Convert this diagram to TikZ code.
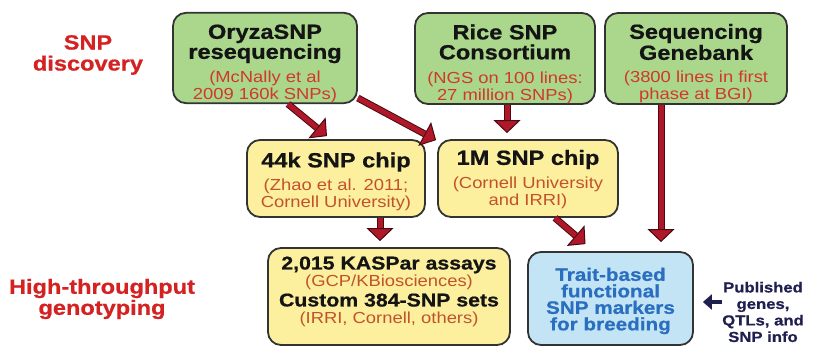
\documentclass[tikz,border=0pt]{standalone}
\usepackage{fontspec}
\setmainfont[FakeStretch=1.15,BoldFeatures={FakeBold=0.7}]{Liberation Sans}
\usetikzlibrary{arrows.meta}
\definecolor{gfill}{HTML}{AAD78C}
\definecolor{yfill}{HTML}{FCEF9E}
\definecolor{bfill}{HTML}{C3E4F5}
\definecolor{bordercol}{HTML}{333333}
\definecolor{titlecol}{HTML}{141414}
\definecolor{gred}{HTML}{D2382A}
\definecolor{yred}{HTML}{C2522C}
\definecolor{labred}{HTML}{D42222}
\definecolor{bluetxt}{HTML}{2A6EC0}
\definecolor{navytxt}{HTML}{1F1F50}
\definecolor{arrred}{HTML}{B0182A}
\definecolor{arrdark}{HTML}{4A0A10}
\newcommand\nolsk{\lineskiplimit=-30pt\relax}
\newcommand\tf{\fontsize{20.5}{20}\selectfont\bfseries\color{titlecol}}
\newcommand\tk{\fontsize{18.5}{20}\selectfont\bfseries\color{titlecol}}
\newcommand\rg{\fontsize{16}{17}\selectfont\color{gred}}
\newcommand\ry{\fontsize{16}{17}\selectfont\color{yred}}
\newcommand\redarr[2]{%
  \draw[arrdark, line width=7pt, -{Triangle[width=27pt,length=13pt,fill=arrred,line width=1pt]}] #1 -- #2;
  \draw[arrred, line width=5pt, shorten >=13pt] #1 -- #2;}
\begin{document}
\begin{tikzpicture}[x=1pt,y=-1pt,
  box/.style={draw=bordercol, line width=1.8pt, rounded corners=13pt, align=center, inner sep=0pt, font=\fontsize{16}{17}\selectfont\nolsk},
  gbox/.style={box, fill=gfill},
  ybox/.style={box, fill=yfill},
  bbox/.style={box, fill=bfill, font=\fontsize{18}{16.5}\selectfont\bfseries\nolsk, text=bluetxt},
  lab/.style={align=center, inner sep=0pt, font=\fontsize{20.5}{21}\selectfont\bfseries\nolsk, text=labred},
  pubtxt/.style={align=center, inner sep=0pt, font=\fontsize{14.5}{16.5}\selectfont\bfseries\nolsk, text=navytxt}]
\useasboundingbox[fill=white] (0,0) rectangle (817,347);

\node[lab] (disc) at (88,55) {SNP\\discovery};
\node[lab] (htg) at (102,299) {High-throughput\\genotyping};

\node[gbox, minimum width=184pt, minimum height=90pt] (oryza) at (265,58)
  {\rule{0pt}{26pt}\tf OryzaSNP\\[3pt]\tf resequencing\\[7pt]\rg (McNally et al\\\rg 2009 160k SNPs)};
\node[gbox, minimum width=180pt, minimum height=91pt] (rice) at (505,58.5)
  {\rule{0pt}{26pt}\tf Rice SNP\\[3pt]\tf Consortium\\[7pt]\rg (NGS on 100 lines:\\\rg 27 million SNPs)};
\node[gbox, minimum width=182pt, minimum height=91pt] (seq) at (696,58.5)
  {\rule{0pt}{25pt}\tf Sequencing\\[4pt]\tf Genebank\\[6pt]\rg (3800 lines in first\\\rg phase at BGI)};

\node[ybox, minimum width=178pt, minimum height=77pt] (chipa) at (336,178.5)
  {\rule{0pt}{21pt}\tf 44k SNP chip\\[6pt]\ry (Zhao et al. 2011;\\\ry Cornell University)};
\node[ybox, minimum width=180pt, minimum height=77pt] (chipb) at (528,178.5)
  {\rule{0pt}{17pt}\tf 1M SNP chip\\[7pt]\ry (Cornell University\\\ry and IRRI)};

\node[ybox, minimum width=242pt, minimum height=97pt] (kas) at (389,296.5)
  {\tk 2,015 KASPar assays\\\ry (GCP/KBiosciences)\\[3pt]\tk Custom 384-SNP sets\\\ry (IRRI, Cornell, others)\rule[-13pt]{0pt}{13pt}};
\node[bbox, minimum width=165pt, minimum height=93pt] (trait) at (610.5,298.5)
  {\rule{0pt}{18pt}Trait-based\\functional\\SNP markers\\for breeding};

\node[pubtxt] (pub) at (763,312) {Published\\genes,\\QTLs, and\\SNP info};

\redarr{([xshift=23pt]oryza.south)}{([xshift=-9pt,yshift=3pt]chipa.north)}
\redarr{([yshift=6pt]oryza.south east)}{([xshift=-1pt,yshift=-1pt]chipb.north west)}
\redarr{([xshift=2pt]rice.south)}{([xshift=2pt,yshift=6pt]rice.south |- chipb.north)}
\redarr{([xshift=-35pt]seq.south)}{([xshift=-35pt,yshift=9pt]seq.south |- trait.north)}
\redarr{([xshift=44pt]chipa.south)}{([xshift=44pt,yshift=6pt]chipa.south |- kas.north)}
\redarr{([xshift=27pt]chipb.south)}{([xshift=-25pt,yshift=7pt]trait.north)}

\draw[navytxt, line width=4.5pt, -{Triangle[width=15pt,length=9pt]}] ([yshift=10pt]pub.west) -- ([xshift=9pt,yshift=-3.5pt]trait.east);
\end{tikzpicture}
\end{document}
